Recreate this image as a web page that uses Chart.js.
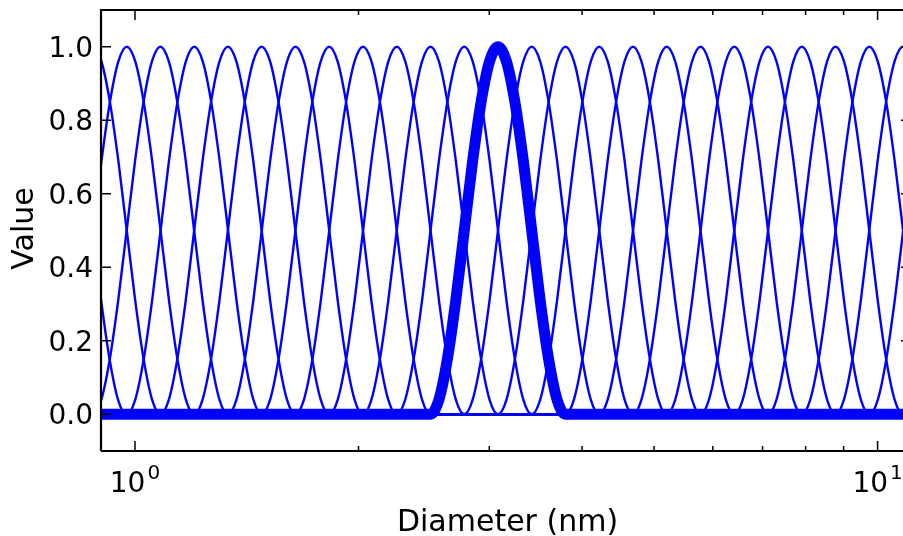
<!DOCTYPE html>
<html lang="en">
<head>
    <meta charset="UTF-8">
    <title>Kernel functions vs diameter</title>
    <script src="https://cdn.jsdelivr.net/npm/chart.js"></script>
    <style>
        body { margin: 0; background: #fff; }
        canvas { display: block; }
    </style>
</head>
<body>
    <canvas id="myChart" width="903" height="536"></canvas>
    <script>
        // peak diameters (nm) of each kernel
        const peakDiameters = [0.790, 0.878, 0.975, 1.082, 1.202, 1.334, 1.481, 1.645, 1.826,
            2.028, 2.252, 2.500, 2.776, 3.082, 3.422, 3.800, 4.219, 4.684, 5.201, 5.775,
            6.413, 7.120, 7.906, 8.778, 9.747, 10.82, 12.02];
        const highlightPeak = 3.082;       // the thick one
        const stepRatio = 1.1103;          // ratio between neighbouring peaks
        // kernel shape: offsets in peak steps and the values read at them
        const shapeOffsets = [-2, -1.75, -1.5, -1.25, -1, -0.75, -0.5, -0.25, 0,
            0.25, 0.5, 0.75, 1, 1.25, 1.5, 1.75, 2];
        const shapeValues = [0, 0.04, 0.15, 0.31, 0.5, 0.69, 0.85, 0.96, 1,
            0.96, 0.85, 0.69, 0.5, 0.31, 0.15, 0.04, 0];
        const baselineRange = [0.5, 20];   // kernels are zero outside their bump

        const yTicks = [0.0, 0.2, 0.4, 0.6, 0.8, 1.0];
        const xMajorTicks = [1, 10];
        const xMajorLabels = [['10', '0'], ['10', '1']];
        const xMinorTicks = [2, 3, 4, 5, 6, 7, 8, 9];

        function kernelPoints(peak){
            const pts = [{x: baselineRange[0], y: 0}];
            shapeOffsets.forEach((o, i) => {
                pts.push({x: peak * Math.pow(stepRatio, o), y: shapeValues[i]});
            });
            pts.push({x: baselineRange[1], y: 0});
            return pts;
        }

        const datasets = peakDiameters.map(p => {
            const thick = p === highlightPeak;
            return {
                data: kernelPoints(p),
                borderColor: '#0000ff',
                borderWidth: thick ? 11 : 2.4,
                borderJoinStyle: 'round',
                cubicInterpolationMode: 'monotone',
                fill: false,
                order: thick ? 0 : 1
            };
        });

        const FONT = '"DejaVu Sans", sans-serif';

        // frame, inward ticks and labels in the old matplotlib look
        const axesPlugin = {
            id: 'axesPlugin',
            afterDraw(chart){
                const ctx = chart.ctx;
                const a = chart.chartArea;
                const xs = chart.scales.x, ys = chart.scales.y;
                const rightSpine = a.right + 8;
                ctx.save();
                ctx.strokeStyle = '#000';
                ctx.lineWidth = 2.2;
                ctx.beginPath();
                ctx.moveTo(a.left, a.bottom);
                ctx.lineTo(a.left, a.top);
                ctx.lineTo(rightSpine, a.top);
                ctx.moveTo(a.left, a.bottom);
                ctx.lineTo(rightSpine, a.bottom);
                ctx.stroke();

                ctx.lineWidth = 1.5;
                ctx.beginPath();
                yTicks.forEach(v => {
                    const y = ys.getPixelForValue(v);
                    ctx.moveTo(a.left, y); ctx.lineTo(a.left + 10, y);
                    ctx.moveTo(rightSpine, y); ctx.lineTo(rightSpine - 10, y);
                });
                xMajorTicks.forEach(v => {
                    const x = xs.getPixelForValue(v);
                    ctx.moveTo(x, a.bottom); ctx.lineTo(x, a.bottom - 10);
                    ctx.moveTo(x, a.top); ctx.lineTo(x, a.top + 10);
                });
                xMinorTicks.forEach(v => {
                    const x = xs.getPixelForValue(v);
                    ctx.moveTo(x, a.bottom); ctx.lineTo(x, a.bottom - 5);
                    ctx.moveTo(x, a.top); ctx.lineTo(x, a.top + 5);
                });
                ctx.stroke();

                ctx.fillStyle = '#000';
                ctx.font = '28px ' + FONT;
                ctx.textAlign = 'right';
                ctx.textBaseline = 'alphabetic';
                yTicks.forEach(v => {
                    ctx.fillText(v.toFixed(1), a.left - 8, ys.getPixelForValue(v) + 10);
                });

                // 10^n labels with superscript
                xMajorTicks.forEach((v, i) => {
                    const x = xs.getPixelForValue(v);
                    const base = xMajorLabels[i][0], sup = xMajorLabels[i][1];
                    ctx.font = '28px ' + FONT;
                    const wb = ctx.measureText(base).width;
                    ctx.font = '20px ' + FONT;
                    const ws = ctx.measureText(sup).width;
                    const x0 = x - (wb + 2 + ws) / 2;
                    ctx.textAlign = 'left';
                    ctx.font = '28px ' + FONT;
                    ctx.fillText(base, x0, a.bottom + 41);
                    ctx.font = '20px ' + FONT;
                    ctx.fillText(sup, x0 + wb + 2, a.bottom + 28);
                });

                ctx.font = '30px ' + FONT;
                ctx.textAlign = 'center';
                ctx.fillText('Diameter (nm)', (a.left + rightSpine + 3) / 2, 531);
                ctx.translate(33, (a.top + a.bottom) / 2 - 2);
                ctx.rotate(-Math.PI / 2);
                ctx.fillText('Value', 0, 0);
                ctx.restore();
            }
        };

        const ctx = document.getElementById('myChart').getContext('2d');
        const myChart = new Chart(ctx, {
            type: 'line',
            data: { datasets: datasets },
            options: {
                responsive: false,
                animation: false,
                events: [],
                layout: { padding: { top: 10, right: 0, left: 0, bottom: 0 } },
                elements: { point: { radius: 0 } },
                plugins: { legend: { display: false }, tooltip: { enabled: false } },
                scales: {
                    x: {
                        type: 'logarithmic',
                        min: 0.9,
                        max: 10.82,
                        grid: { display: false },
                        border: { display: false },
                        ticks: { display: false },
                        afterFit: s => { s.height = 85; }
                    },
                    y: {
                        min: -0.1,
                        max: 1.1,
                        grid: { display: false },
                        border: { display: false },
                        ticks: { display: false },
                        afterFit: s => { s.width = 101; }
                    }
                }
            },
            plugins: [axesPlugin]
        });
    </script>
</body>
</html>
